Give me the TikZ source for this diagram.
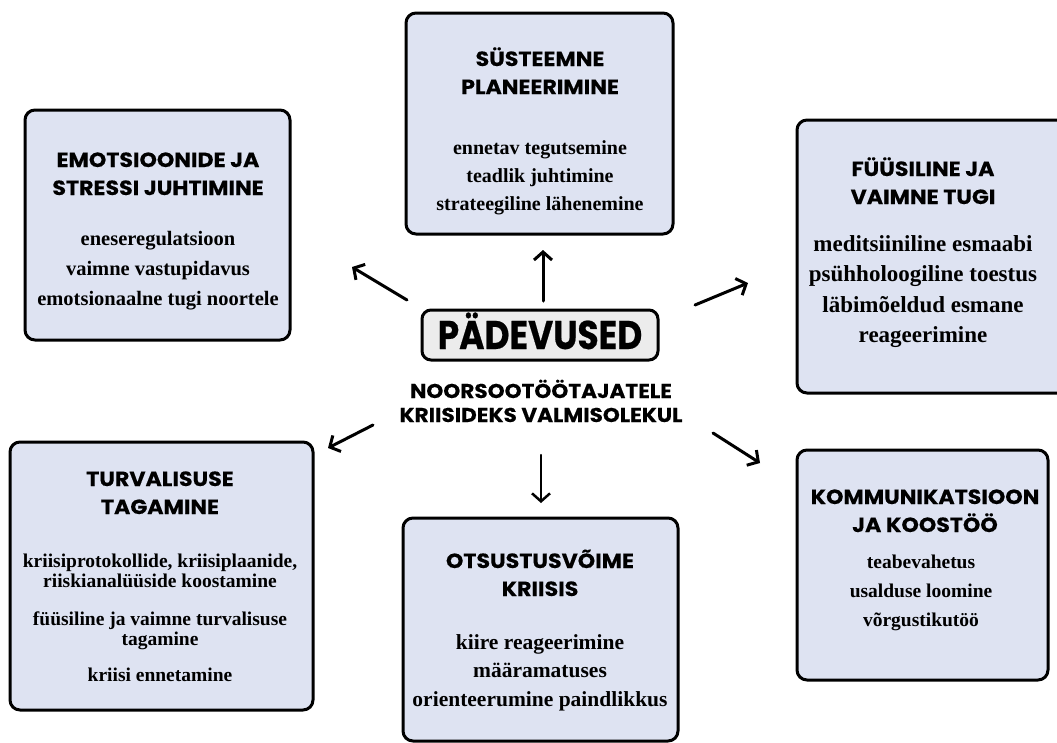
\documentclass[tikz,border=0pt]{standalone}
\usepackage{fontspec}
\newfontfamily\ttlfont{Poppins}[FakeStretch=1.08, BoldFeatures={FakeBold=0.3}]
\newfontfamily\midfont{Poppins}[FakeStretch=0.86, BoldFeatures={FakeBold=0.5}]
\newfontfamily\txtfont{Liberation Serif}
\usetikzlibrary{arrows.meta}
\definecolor{boxblue}{RGB}{222,227,242}
\definecolor{midgray}{RGB}{236,236,236}
\newcommand\boxlines[1]{\begin{tabular}[t]{@{}c@{}}#1\end{tabular}}
\tikzset{
  box/.style={draw, line width=3pt, rounded corners=10pt, fill=boxblue, inner sep=0pt},
  ttl/.style={anchor=base, inner sep=0pt, font=\ttlfont\bfseries\fontsize{20.5}{28}\selectfont},
  txt/.style={anchor=base, inner sep=0pt, font=\txtfont\bfseries\fontsize{20}{28}\selectfont},
  arr/.style={line width=3pt, line cap=round, -{Straight Barb[length=8pt,width=18pt]}}
}
\begin{document}
\begin{tikzpicture}[x=1pt,y=-1pt]
\useasboundingbox (0,0) rectangle (1057,742);
\clip (0,0) rectangle (1057,742);
\fill[white] (0,0) rectangle (1057,742);

\node[box, minimum width=267pt, minimum height=221pt] (sys) at (539.5,123.5) {};
\node[box, minimum width=265pt, minimum height=230pt] (emo) at (157.5,225) {};
\node[box, minimum width=273pt, minimum height=273pt] (fys) at (933.5,256.5) {};
\node[box, minimum width=303pt, minimum height=268pt] (tur) at (161.5,576) {};
\node[box, minimum width=275pt, minimum height=223pt] (ots) at (540.5,629.5) {};
\node[box, minimum width=251pt, minimum height=230pt] (kom) at (922.5,565) {};

\node[ttl] (sysT) at (540,66) {\boxlines{SÜSTEEMNE\\PLANEERIMINE}};
\node[txt] (sysB) at (540,154) {\boxlines{ennetav tegutsemine\\teadlik juhtimine\\strateegiline lähenemine}};

\node[ttl] (emoT) at (158,167) {\boxlines{EMOTSIOONIDE JA\\STRESSI JUHTIMINE}};
\node[txt, font=\txtfont\bfseries\fontsize{20.5}{30}\selectfont] (emoB) at (158,245) {\boxlines{eneseregulatsioon\\vaimne vastupidavus\\emotsionaalne tugi noortele}};

\node[ttl] (fysT) at (923,176) {\boxlines{FÜÜSILINE JA\\VAIMNE TUGI}};
\node[txt, font=\txtfont\bfseries\fontsize{23}{30.5}\selectfont] (fysB) at (923,251) {\boxlines{meditsiiniline esmaabi\\psühholoogiline toestus\\läbimõeldud esmane\\reageerimine}};

\node[ttl] (turT) at (160,486) {\boxlines{TURVALISUSE\\TAGAMINE}};
\node[txt, font=\txtfont\bfseries\fontsize{19.5}{20}\selectfont] (turB) at (160,567) {\boxlines{kriisiprotokollide, kriisiplaanide,\\riiskianalüüside koostamine\\[18pt]füüsiline ja vaimne turvalisuse\\tagamine\\[16pt]kriisi ennetamine}};

\node[ttl] (otsT) at (540,568) {\boxlines{OTSUSTUSVÕIME\\KRIISIS}};
\node[txt, font=\txtfont\bfseries\fontsize{21.5}{28.5}\selectfont] (otsB) at (540,649) {\boxlines{kiire reageerimine\\määramatuses\\orienteerumine paindlikkus}};

\node[ttl] (komT) at (925,504) {\boxlines{KOMMUNIKATSIOON\\JA KOOSTÖÖ}};
\node[txt, font=\txtfont\bfseries\fontsize{19.5}{29}\selectfont] (komB) at (921,568) {\boxlines{teabevahetus\\usalduse loomine\\võrgustikutöö}};

\node[draw, line width=3pt, rounded corners=9pt, fill=midgray, minimum width=236pt, minimum height=50pt, inner sep=0pt, text height=28pt, text depth=0pt, font=\midfont\bfseries\fontsize{40}{40}\selectfont] (pad) at (540,335) {PÄDEVUSED};
\node[ttl, font=\ttlfont\bfseries\fontsize{20}{24}\selectfont] (sub) at (541,398) {\boxlines{NOORSOOTÖÖTAJATELE\\KRIISIDEKS VALMISOLEKUL}};

\coordinate (upA) at (543,301);
\coordinate (upB) at (543,250);
\coordinate (ulA) at (407,300);
\coordinate (ulB) at (352,267);
\coordinate (llA) at (373,425);
\coordinate (llB) at (328,448);
\coordinate (urA) at (695,305);
\coordinate (urB) at (748,283);
\coordinate (lrA) at (713,433);
\coordinate (lrB) at (760,463);
\coordinate (dnA) at (541,455);
\coordinate (dnB) at (541,503);
\draw[arr] (upA) -- (upB);
\draw[arr] (ulA) -- (ulB);
\draw[arr] (llA) -- (llB);
\draw[arr] (urA) -- (urB);
\draw[arr] (lrA) -- (lrB);
\draw[arr, line width=2.5pt] (dnA) -- (dnB);
\end{tikzpicture}
\end{document}
